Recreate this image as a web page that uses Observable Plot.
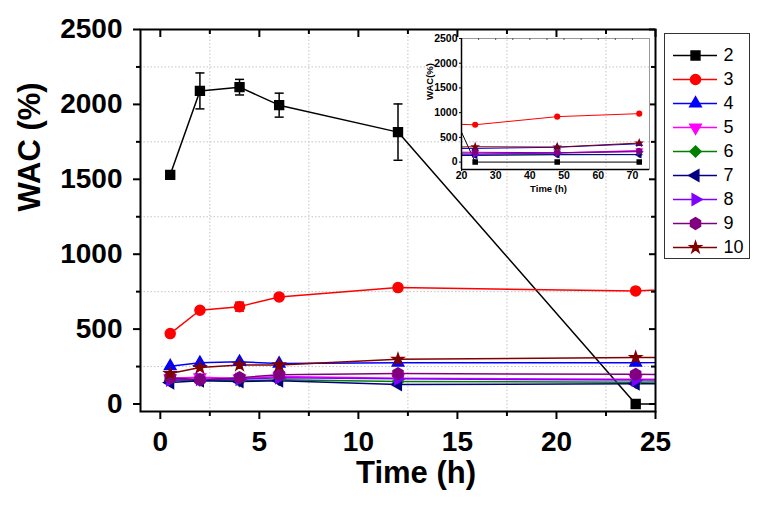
<!DOCTYPE html>
<html><head><meta charset="utf-8">
<script src="https://cdn.jsdelivr.net/npm/d3@7"></script>
<script src="https://cdn.jsdelivr.net/npm/@observablehq/plot@0.6"></script>
<style>
body{margin:0;background:#fff;}
#wrap{position:relative;width:760px;height:505px;overflow:hidden;}
#wrap svg{position:absolute;left:0;top:0;}
</style></head><body><div id="wrap"></div>
<script>
// ---- data ----
const times = [0.5, 2, 4, 6, 12, 24, 48, 72];
const seriesNames = ["2", "3", "4", "5", "6", "7", "8", "9", "10"];
const seriesColors = ["#000000", "#ff0000", "#0000ff", "#ff00ff", "#008000", "#000080", "#8000ff", "#800080", "#800000"];
const s2  = [1530, 2090, 2115, 1995, 1815, 0, 0, 0];
const s3  = [470, 626, 650, 715, 777, 755, 919, 980];
const s4  = [252, 275, 282, 270, 276, 276, 300, 370];
const s5  = [172, 178, 170, 184, 172, 166, 185, 235];
const s6  = [155, 160, 155, 162, 150, 146, 150, 155];
const s7  = [143, 155, 150, 155, 130, 135, 150, 150];
const s8  = [160, 165, 165, 176, 168, 160, 180, 210];
const s9  = [176, 162, 176, 196, 203, 198, 190, 220];
const s10 = [203, 243, 261, 261, 298, 310, 304, 385];
const err2 = [0, 120, 52, 80, 188, 0, 0, 0];
const err3 = [0, 15, 30, 12, 0, 0, 0, 0];
const xMajorTicks = [0, 5, 10, 15, 20, 25];
const xMinorTicks = [2.5, 7.5, 12.5, 17.5, 22.5];
const yMajorTicks = [0, 500, 1000, 1500, 2000, 2500];
const yMinorTicks = [250, 750, 1250, 1750, 2250];
const insetXTicks = [20, 30, 40, 50, 60, 70];
const insetTopTicks = [25, 30, 35, 40, 45, 50, 55, 60, 65, 70];
const insetYTicks = [0, 500, 1000, 1500, 2000, 2500];

const allValues = [s2, s3, s4, s5, s6, s7, s8, s9, s10];
const rows = seriesNames.flatMap((s, i) => times.map((t, j) => ({series: s, t, v: allValues[i][j]})));
const errRows = [["2", err2], ["3", err3]].flatMap(([s, e]) =>
  times.map((t, j) => ({series: s, t, v: allValues[seriesNames.indexOf(s)][j], e: e[j]})).filter(d => d.e > 0));
const capRows = errRows.flatMap(d => [{...d, y: d.v - d.e}, {...d, y: d.v + d.e}]);

// ---- symbols ----
const sqrt3 = Math.sqrt(3);
function tri(dir) {
  return {draw(ctx, size) {
    const h = Math.sqrt(size / Math.PI) * 1.15; // half width
    const H = h * sqrt3; // height
    let pts = [[0, -2 * H / 3], [-h, H / 3], [h, H / 3]];
    if (dir === "down") pts = pts.map(([x, y]) => [x, -y]);
    if (dir === "left") pts = pts.map(([x, y]) => [y, x]);
    if (dir === "right") pts = pts.map(([x, y]) => [-y, x]);
    ctx.moveTo(pts[0][0], pts[0][1]);
    ctx.lineTo(pts[1][0], pts[1][1]);
    ctx.lineTo(pts[2][0], pts[2][1]);
    ctx.closePath();
  }};
}
const star = {draw(ctx, size) { d3.symbolStar.draw(ctx, size * 0.5); }};
const hline = {draw(ctx, size) { const w = Math.sqrt(size) / 2; ctx.moveTo(-w, 0); ctx.lineTo(w, 0); }};
const seriesSymbols = ["square", "circle", tri("up"), tri("down"), "diamond2", tri("left"), tri("right"), "hexagon", star];

const FONT = "'Liberation Sans', Arial, Helvetica, sans-serif";
const baseStyle = {fontFamily: FONT, background: "transparent", color: "black", overflow: "visible"};
const colorScale = {domain: seriesNames, range: seriesColors};
const symbolScale = {domain: seriesNames, range: seriesSymbols};

// ---- main chart ----
const frameW = 760 - 140 - 105, frameH = 505 - 29 - 94;
const main = Plot.plot({
  width: 760, height: 505,
  marginLeft: 140, marginRight: 105, marginTop: 29, marginBottom: 94,
  style: baseStyle,
  x: {domain: [-1, 25], axis: null},
  y: {domain: [-50, 2500], axis: null},
  color: colorScale,
  symbol: symbolScale,
  marks: [
    Plot.gridX(xMinorTicks, {stroke: "#c4c4c4", strokeOpacity: 1, strokeDasharray: "1.5,2"}),
    Plot.gridY(yMinorTicks, {stroke: "#c4c4c4", strokeOpacity: 1, strokeDasharray: "1.5,2"}),
    Plot.line(rows, {x: "t", y: "v", z: "series", stroke: "series", strokeWidth: 1.5, clip: true}),
    Plot.ruleX(errRows, {x: "t", y1: d => d.v - d.e, y2: d => d.v + d.e, stroke: "series", strokeWidth: 1.5, clip: true}),
    Plot.dot(capRows, {x: "t", y: "y", stroke: "series", symbol: hline, r: 5.1, strokeWidth: 1.5, clip: true}),
    Plot.dot(rows, {x: "t", y: "v", symbol: "series", fill: "series", stroke: "series", r: 5, clip: true}),
    Plot.frame({stroke: "black", strokeWidth: 2}),
    Plot.axisX(xMajorTicks, {anchor: "bottom", tickSize: 8, tickPadding: 12, strokeWidth: 2, fontSize: 28, fontWeight: "bold", label: null, tickFormat: d => String(d)}),
    Plot.axisX(xMinorTicks, {anchor: "bottom", tickSize: 5, strokeWidth: 2, label: null, tickFormat: () => ""}),
    Plot.axisY(yMajorTicks, {anchor: "left", tickSize: 7, tickPadding: 11, strokeWidth: 2, fontSize: 28, fontWeight: "bold", label: null, tickFormat: d => String(d)}),
    Plot.axisY(yMinorTicks, {anchor: "left", tickSize: 4, strokeWidth: 2, label: null, tickFormat: () => ""}),
    Plot.ruleX(xMajorTicks, {insetBottom: frameH - 8, strokeWidth: 2}),
    Plot.ruleX(xMinorTicks, {insetBottom: frameH - 5, strokeWidth: 2}),
    Plot.ruleY(yMajorTicks, {insetLeft: frameW - 6, strokeWidth: 2}),
    Plot.ruleY(yMinorTicks, {insetLeft: frameW - 4, strokeWidth: 2}),
    Plot.text(["WAC (%)"], {text: d => d, frameAnchor: "left", dx: -110, dy: -9, rotate: -90, fontSize: 31, fontWeight: "bold"}),
    Plot.text(["Time (h)"], {text: d => d, frameAnchor: "bottom", dx: 18, dy: 71, fontSize: 31, fontWeight: "bold"})
  ]
});

// ---- inset ----
const inset = Plot.plot({
  width: 760, height: 505,
  marginLeft: 461, marginRight: 111, marginTop: 38, marginBottom: 336,
  style: baseStyle,
  x: {domain: [20, 75], axis: null},
  y: {domain: [-150, 2500], axis: null},
  color: colorScale,
  symbol: symbolScale,
  marks: [
    Plot.frame({stroke: "#9a9a9a", strokeWidth: 1}),
    Plot.line(rows, {x: "t", y: "v", z: "series", stroke: "series", strokeWidth: 1, clip: true}),
    Plot.dot(rows, {x: "t", y: "v", symbol: "series", fill: "series", stroke: "series", r: 2.3, clip: true}),
    Plot.ruleX([20], {stroke: "black", strokeWidth: 1.5}),
    Plot.ruleY([-150], {stroke: "black", strokeWidth: 1.5}),
    Plot.ruleX(insetTopTicks, {insetBottom: 131 - 2, stroke: "#555"}),
    Plot.axisX(insetXTicks, {anchor: "bottom", tickSize: 2, tickPadding: 0, fontSize: 10.5, fontWeight: "bold", label: null, tickFormat: d => String(d)}),
    Plot.axisY(insetYTicks, {anchor: "left", tickSize: 2, tickPadding: 2, fontSize: 10.5, fontWeight: "bold", label: null, tickFormat: d => String(d)}),
    Plot.text(["WAC(%)"], {text: d => d, frameAnchor: "left", dx: -32, dy: -4, rotate: -90, fontSize: 9.5, fontWeight: "bold"}),
    Plot.text(["Time (h)"], {text: d => d, frameAnchor: "bottom", dx: -7, dy: 22, fontSize: 9.5, fontWeight: "bold"})
  ]
});

// ---- legend ----
const legend = Plot.plot({
  width: 760, height: 505,
  marginLeft: 664, marginRight: 11, marginTop: 33, marginBottom: 247,
  style: baseStyle,
  x: {domain: [0, 1], range: [673, 717], axis: null},
  y: {type: "point", domain: seriesNames, range: [54, 248], padding: 0, axis: null},
  color: colorScale,
  symbol: symbolScale,
  marks: [
    Plot.frame({stroke: "#333", strokeWidth: 1}),
    Plot.ruleY(seriesNames, {y: d => d, x1: 0, x2: 1, stroke: d => d, strokeWidth: 1.5}),
    Plot.dot(seriesNames, {x: 0.5, y: d => d, symbol: d => d, fill: d => d, stroke: d => d, r: 5}),
    Plot.text(seriesNames, {x: 1, y: d => d, text: d => d, dx: 6, textAnchor: "start", fontSize: 18})
  ]
});

const wrap = document.getElementById("wrap");
wrap.append(main, inset, legend);
</script></body></html>
